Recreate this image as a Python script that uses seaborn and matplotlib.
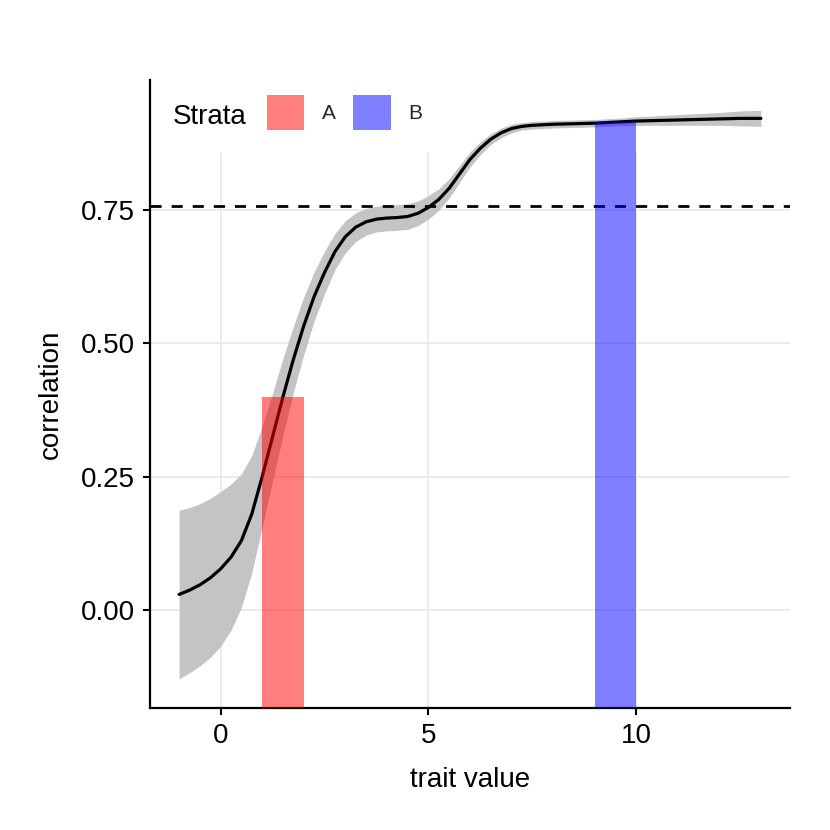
import matplotlib
matplotlib.use("Agg")
import matplotlib.pyplot as plt
import seaborn as sns
import numpy as np
import pandas as pd
from matplotlib.patches import Patch

# ---- data ----
trait_x = [-1, -0.75, -0.5, -0.25, 0, 0.25, 0.5, 0.75, 1, 1.25, 1.5, 1.75, 2, 2.25,
           2.5, 2.75, 3, 3.25, 3.5, 3.75, 4, 4.25, 4.5, 4.75, 5, 5.25, 5.5, 5.75,
           6, 6.25, 6.5, 6.75, 7, 7.25, 7.5, 7.75, 8, 8.5, 9, 9.5, 10, 10.5, 11,
           11.5, 12, 12.5, 13]
fit_corr = [0.029, 0.037, 0.047, 0.060, 0.077, 0.099, 0.130, 0.180, 0.250, 0.325,
            0.400, 0.470, 0.533, 0.588, 0.633, 0.672, 0.700, 0.718, 0.728, 0.733,
            0.735, 0.736, 0.738, 0.744, 0.755, 0.770, 0.791, 0.818, 0.845, 0.866,
            0.883, 0.895, 0.903, 0.907, 0.909, 0.910, 0.911, 0.912, 0.913, 0.915,
            0.917, 0.918, 0.919, 0.920, 0.921, 0.922, 0.922]
ci_half = [0.158, 0.155, 0.152, 0.149, 0.145, 0.137, 0.125, 0.110, 0.095, 0.082,
           0.072, 0.062, 0.054, 0.046, 0.040, 0.034, 0.030, 0.027, 0.025, 0.024,
           0.024, 0.024, 0.024, 0.023, 0.022, 0.020, 0.018, 0.016, 0.014, 0.012,
           0.010, 0.009, 0.008, 0.007, 0.007, 0.007, 0.007, 0.007, 0.007, 0.007,
           0.008, 0.009, 0.010, 0.011, 0.012, 0.014, 0.015]

strata = ["A", "B"]
strata_xmin = [1, 9]
strata_xmax = [2, 10]
strata_height = [0.4, 0.915]
strata_colors = ["#FF0000", "#0000FF"]

threshold = 0.758
x_ticks = [0, 5, 10]
y_ticks = [0.00, 0.25, 0.50, 0.75]
y_tick_labels = ["0.00", "0.25", "0.50", "0.75"]

# ---- figure ----
sns.set_theme(style="white")
plt.rcParams["font.family"] = ["Liberation Sans", "DejaVu Sans"]

fig = plt.figure(figsize=(8.3, 8.3), dpi=100)
ax = fig.add_axes([150 / 830, 1 - 708 / 830, 640 / 830, 628 / 830])

xlim = (-1.7, 13.7)
ylim = (-0.184, 0.994)
ax.set_xlim(*xlim)
ax.set_ylim(*ylim)

grid_c = "#EBEBEB"
vgrid_top = (0.857 - ylim[0]) / (ylim[1] - ylim[0])
for xv in x_ticks:
    ax.axvline(xv, ymin=0, ymax=vgrid_top, color=grid_c, lw=1.5, zorder=0)
for yv in y_ticks:
    ax.axhline(yv, color=grid_c, lw=1.5, zorder=0)

df = pd.DataFrame({"x": trait_x, "fit": fit_corr, "hw": ci_half})
lo = df["fit"] - df["hw"]
hi = df["fit"] + df["hw"]
ax.fill_between(df["x"], lo, hi, color="#C4C4C4", lw=0, zorder=1)
sns.lineplot(data=df, x="x", y="fit", color="black", lw=2.3, ax=ax, zorder=2)

ax.axhline(threshold, color="black", lw=2.0, ls=(0, (4, 3.6)), zorder=3)

handles = []
for s, x0, x1, h, c in zip(strata, strata_xmin, strata_xmax, strata_height, strata_colors):
    ax.bar(x=(x0 + x1) / 2, height=h - ylim[0], bottom=ylim[0], width=x1 - x0,
           color=c, alpha=0.5, lw=0, zorder=4)
    handles.append(Patch(facecolor=c, alpha=0.5, edgecolor="none", label=s))

ax.set_xticks(x_ticks)
ax.set_xticklabels([str(v) for v in x_ticks])
ax.set_yticks(y_ticks)
ax.set_yticklabels(y_tick_labels)
ax.tick_params(axis="both", which="major", length=5, width=1.5, color="black",
               labelsize=20, labelcolor="black", pad=6, bottom=True, left=True)

for side in ["top", "right"]:
    ax.spines[side].set_visible(False)
for side in ["left", "bottom"]:
    ax.spines[side].set_color("black")
    ax.spines[side].set_linewidth(1.6)

ax.set_xlabel("trait value", fontsize=20, color="black", labelpad=13)
ax.set_ylabel("correlation", fontsize=20, color="black", labelpad=12)

fig.text(172.7 / 830, 1 - 124 / 830, "Strata", fontsize=20, color="black",
         ha="left", va="baseline")
leg = ax.legend(handles=handles, ncol=2, frameon=False, fontsize=15,
                loc="center left", bbox_to_anchor=(266.7 / 830, 1 - 112.9 / 830),
                bbox_transform=fig.transFigure, borderpad=0, borderaxespad=0,
                handlelength=1.8, handleheight=2.2, handletextpad=0.84,
                columnspacing=0.85)

fig.savefig("out.png", dpi=100, facecolor="white")
